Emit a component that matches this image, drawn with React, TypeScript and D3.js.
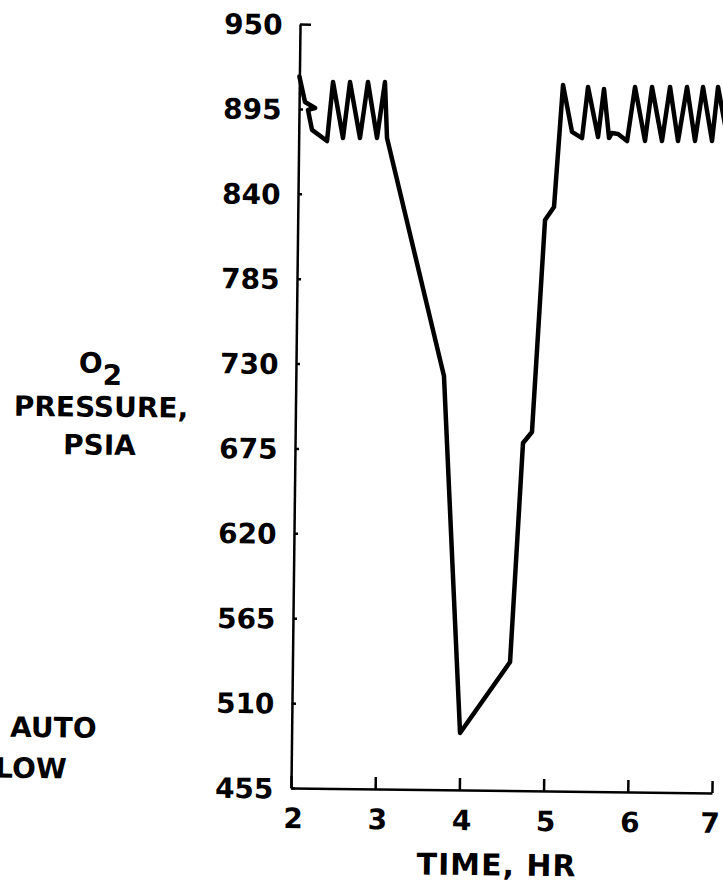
import React, { useRef, useEffect } from "react";
import * as d3 from "d3";

// O2 tank pressure vs time
const timeHr = [
  2.0, 2.07, 2.19, 2.107, 2.157, 2.337, 2.4, 2.526, 2.602, 2.728, 2.815, 2.93,
  3.017, 3.049, 3.759, 4.0, 4.584, 4.707, 4.812, 4.937, 5.042, 5.132, 5.245,
  5.365, 5.429, 5.555, 5.619, 5.686, 5.72, 5.792, 5.9, 5.987, 6.113, 6.189,
  6.315, 6.403, 6.505, 6.605, 6.707, 6.795, 6.909, 6.973, 7.099,
];
const o2Psia = [
  916, 899.5, 895.7, 894.4, 881.5, 874.4, 912.7, 876.5, 912.8, 876.6, 913,
  876.8, 913.1, 876.8, 723.1, 491.9, 538.3, 680.3, 687.5, 824.9, 833.4, 912.5,
  882.2, 878.3, 911.4, 879.1, 910.3, 878.5, 881.8, 881.2, 876.7, 911.8, 876.9,
  911.9, 877, 912.1, 877.1, 912.2, 877.3, 912.3, 877.4, 912.4, 877.5,
];
const xTicks = [2, 3, 4, 5, 6, 7];
const yTicks = [455, 510, 565, 620, 675, 730, 785, 840, 895, 950];

const FONT = "'DejaVu Sans', sans-serif";

export default function App() {
  const chartRef = useRef<SVGSVGElement | null>(null);

  useEffect(() => {
    if (!chartRef.current) return;
    const svg = d3.select(chartRef.current);
    svg.selectAll("*").remove();

    const left = 295.5;
    const right = 716.5;
    const top = 24;
    const bottom = 788;

    const x = d3.scaleLinear().domain([2, 7]).range([left, right]);
    const y = d3.scaleLinear().domain([455, 950]).range([bottom, top]);

    // the scan is slightly tilted clockwise
    const g = svg
      .append("g")
      .attr("transform", `rotate(0.68, ${left}, ${(top + bottom) / 2})`);

    // x axis
    const xAxis = g
      .append("g")
      .attr("transform", `translate(0,${bottom})`)
      .call(
        d3
          .axisBottom(x)
          .tickValues(xTicks)
          .tickSizeInner(-12)
          .tickSizeOuter(0)
          .tickFormat(d3.format("d"))
      );
    xAxis.select(".domain").attr("stroke", "#000").attr("stroke-width", 2.5);
    xAxis.selectAll(".tick line").attr("stroke", "#000").attr("stroke-width", 2.5);
    xAxis
      .selectAll<SVGTextElement, number>(".tick text")
      .attr("y", 40)
      .attr("dy", null)
      .attr("dx", (d) => (d === 7 ? -2 : 2))
      .attr("fill", "#000")
      .style("font-family", FONT)
      .style("font-weight", "bold")
      .style("font-size", "28px");

    // y axis
    const yAxis = g
      .append("g")
      .attr("transform", `translate(${left},0)`)
      .call(
        d3
          .axisLeft(y)
          .tickValues(yTicks)
          .tickSizeInner(-4)
          .tickSizeOuter(0)
          .tickPadding(17.5)
          .tickFormat(d3.format("d"))
      );
    yAxis.select(".domain").attr("stroke", "#000").attr("stroke-width", 2.5);
    yAxis.selectAll(".tick line").attr("stroke", "#000").attr("stroke-width", 2.5);
    yAxis
      .selectAll<SVGLineElement, number>(".tick line")
      .filter((d) => d === 950)
      .attr("x2", 11);
    yAxis
      .selectAll(".tick text")
      .attr("fill", "#000")
      .attr("dy", "0.36em")
      .style("font-family", FONT)
      .style("font-weight", "bold")
      .style("font-size", "28px");

    // pressure trace
    const line = d3
      .line<number>()
      .x((d, i) => x(timeHr[i]))
      .y((d) => y(d));

    g.append("path")
      .datum(o2Psia)
      .attr("d", line)
      .attr("fill", "none")
      .attr("stroke", "#000")
      .attr("stroke-width", 4.5)
      .attr("stroke-linejoin", "round")
      .attr("stroke-linecap", "round");

    // labels
    const label = (tx: number, ty: number, txt: string, size = 28, anchor = "middle") =>
      g
        .append("text")
        .attr("x", tx)
        .attr("y", ty)
        .attr("text-anchor", anchor)
        .attr("fill", "#000")
        .style("font-family", FONT)
        .style("font-weight", "bold")
        .style("font-size", `${size}px`)
        .text(txt);

    const o2 = label(100, 375, "O", 28);
    o2.append("tspan").attr("dy", 12).text("2");
    label(101, 419, "PRESSURE,", 28);
    label(100, 457, "PSIA", 28);

    label(502, 873, "TIME,  HR", 30).style("letter-spacing", "1px");

    // cut off at the left edge in the original scan
    label(14, 740, "AUTO", 28, "start");
    label(71, 781, "LOW", 28, "end");
  }, []);

  return (
    <svg
      ref={chartRef}
      width={723}
      height={892}
      style={{ position: "absolute", left: 0, top: 0, background: "#fff" }}
    />
  );
}
